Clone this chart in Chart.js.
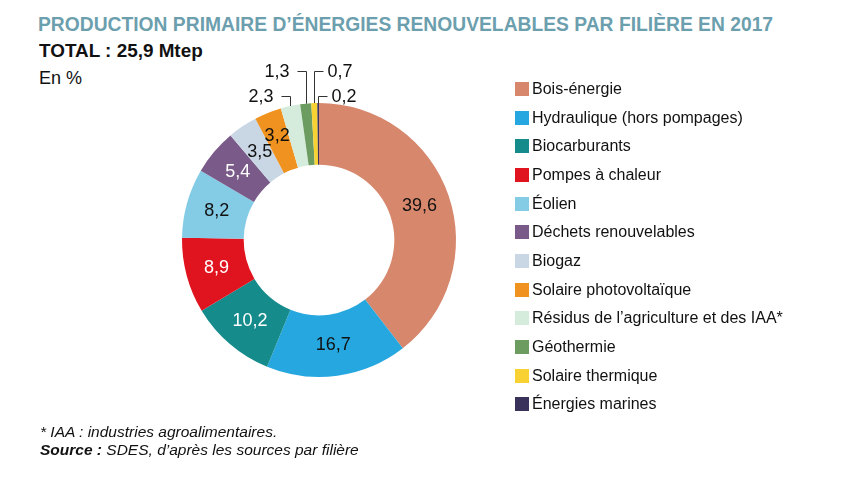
<!DOCTYPE html>
<html lang="fr">
<head>
<meta charset="utf-8">
<script src="https://cdn.jsdelivr.net/npm/chart.js@4"></script>
<style>
  html, body { margin: 0; padding: 0; background: #fff; }
  body { width: 846px; height: 483px; position: relative; overflow: hidden;
         font-family: "Liberation Sans", Arial, sans-serif; color: #111; }
  #chart { position: absolute; left: 0; top: 0; }
  .txt { position: absolute; white-space: nowrap; transform-origin: left center; }
  #title { left: 38px; top: 13px; font-size: 20px; font-weight: bold; color: #6c9fae; }
  #total { left: 39px; top: 40px; font-size: 19px; font-weight: bold; }
  #unit { left: 39px; top: 68px; font-size: 18px; }
  #note { left: 40px; top: 423px; font-size: 15.5px; font-style: italic; }
  #source { left: 40px; top: 441px; font-size: 15.5px; font-style: italic; }
  #legend { position: absolute; left: 515px; top: 75px; }
  .item { position: absolute; left: 0; height: 28px; display: flex; align-items: center;
          font-size: 16px; white-space: nowrap; }
  .box { width: 14px; height: 14px; margin-right: 3px; }
</style>
</head>
<body>
<div id="title" class="txt">PRODUCTION PRIMAIRE D’ÉNERGIES RENOUVELABLES PAR FILIÈRE EN 2017</div>
<div id="total" class="txt">TOTAL : 25,9 Mtep</div>
<div id="unit" class="txt">En %</div>
<canvas id="chart" width="846" height="483"></canvas>
<div id="legend"></div>
<div id="note" class="txt">* IAA : industries agroalimentaires.</div>
<div id="source" class="txt"><b>Source :</b> SDES, d’après les sources par filière</div>
<script>
// Filières (ordre du graphique, sens horaire depuis midi)
const categories = [
    'Bois-énergie',
    'Hydraulique (hors pompages)',
    'Biocarburants',
    'Pompes à chaleur',
    'Éolien',
    'Déchets renouvelables',
    'Biogaz',
    'Solaire photovoltaïque',
    'Résidus de l’agriculture et des IAA*',
    'Géothermie',
    'Solaire thermique',
    'Énergies marines'
];

// Part en %
const values = [39.6, 16.7, 10.2, 8.9, 8.2, 5.4, 3.5, 3.2, 2.3, 1.3, 0.7, 0.2];

const colors = [
    '#d6876c', '#26a7df', '#168b8c', '#e0141e', '#84cbe6', '#7a5a89',
    '#c8d7e3', '#f0921f', '#d5ebdc', '#6c9c5f', '#f7d232', '#39325a'
];

// labels drawn in white on dark slices
const whiteText = ['Biocarburants', 'Pompes à chaleur', 'Déchets renouvelables'];

function fmt(v) {
    return v.toFixed(1).replace('.', ',');
}

// stretch/shrink a text line to a measured width
function fitWidth(id, w) {
    const el = document.getElementById(id);
    el.style.transform = 'scaleX(' + (w / el.offsetWidth) + ')';
}
fitWidth('title', 735);
fitWidth('total', 164);

// legend built from the arrays
const legend = document.getElementById('legend');
categories.forEach((name, i) => {
    const item = document.createElement('div');
    item.className = 'item';
    item.style.top = (i * 28.65) + 'px';
    item.innerHTML = '<span class="box" style="background:' + colors[i] + '"></span>' + name;
    legend.appendChild(item);
});

// values on / around the slices
const sliceLabels = {
    id: 'sliceLabels',
    afterDatasetsDraw(chart) {
        const ctx = chart.ctx;
        const meta = chart.getDatasetMeta(0);
        ctx.save();
        ctx.font = '18px "Liberation Sans", Arial, sans-serif';
        ctx.textBaseline = 'middle';

        const outside = [];
        meta.data.forEach((arc, i) => {
            const mid = (arc.startAngle + arc.endAngle) / 2;
            if (values[i] >= 3) {
                const r = (arc.innerRadius + arc.outerRadius) / 2 + (values[i] < 3.4 ? 6 : 0);
                ctx.fillStyle = whiteText.includes(categories[i]) ? '#fff' : '#111';
                ctx.textAlign = 'center';
                ctx.fillText(fmt(values[i]), arc.x + Math.cos(mid) * r, arc.y + Math.sin(mid) * r);
            } else {
                outside.push({
                    i: i,
                    x: arc.x + Math.cos(mid) * arc.outerRadius,
                    y: arc.y + Math.sin(mid) * arc.outerRadius,
                    dx: Math.cos(mid) * arc.outerRadius,
                    top: arc.y - arc.outerRadius
                });
            }
        });

        const left = outside.filter(o => o.dx < -5).sort((a, b) => a.dx - b.dx);
        const right = outside.filter(o => o.dx >= -5).sort((a, b) => b.dx - a.dx);

        ctx.strokeStyle = '#333';
        ctx.lineWidth = 1;
        ctx.fillStyle = '#111';
        [[left, -1], [right, 1]].forEach(([group, side]) => {
            group.forEach((o, k) => {
                const ly = Math.round(o.top - (k === 0 ? 7 : 32)) + 0.5;
                const x = Math.round(o.x) + 0.5;
                ctx.beginPath();
                ctx.moveTo(x, o.y);
                ctx.lineTo(x, ly);
                ctx.lineTo(x + side * 9, ly);
                ctx.stroke();
                ctx.textAlign = side < 0 ? 'right' : 'left';
                ctx.fillText(fmt(values[o.i]), x + side * (side < 0 ? 17 : 13), ly + 1);
            });
        });
        ctx.restore();
    }
};

new Chart(document.getElementById('chart').getContext('2d'), {
    type: 'doughnut',
    data: {
        labels: categories,
        datasets: [{
            data: values,
            backgroundColor: colors,
            borderWidth: 0
        }]
    },
    options: {
        responsive: false,
        animation: false,
        cutout: '55%',
        layout: {
            padding: { left: 182, right: 390, top: 103, bottom: 106 }
        },
        plugins: {
            legend: { display: false },
            tooltip: { enabled: false }
        }
    },
    plugins: [sliceLabels]
});
</script>
</body>
</html>
